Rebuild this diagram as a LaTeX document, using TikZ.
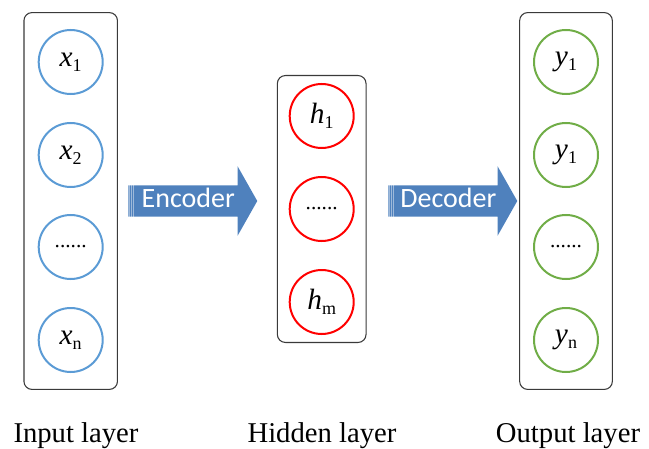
\documentclass[tikz,border=0pt]{standalone}
\usepackage{fontspec}
\setmainfont{Liberation Serif}
\newfontfamily\calibfont{Carlito}
\usetikzlibrary{shapes.arrows,fit}
\definecolor{aeBlue}{HTML}{5B9BD5}
\definecolor{aeRed}{HTML}{FF0000}
\definecolor{aeGreen}{HTML}{70AD47}
\definecolor{aeArrow}{HTML}{4F81BD}
\definecolor{aeFrame}{HTML}{3A3A3A}
\newcommand{\unitvar}[2]{\textit{#1}\raisebox{-0.4ex}{\fontsize{13.5}{13.5}\selectfont #2}}
\tikzset{
  ae unit/.style={circle, draw=#1, line width=1.5pt, minimum size=48pt, inner sep=0pt, font=\fontsize{22}{22}\selectfont},
  ae frame/.style={draw=aeFrame, line width=0.8pt, rounded corners=6pt},
  ae arrow/.style={single arrow, fill=aeArrow, draw=none, single arrow tip angle=121,
    single arrow head extend=14.25pt, minimum height=96.75pt, inner xsep=2pt, inner ysep=3.1pt,
    text height=13pt, text depth=4pt, font=\calibfont\fontsize{21}{21}\selectfont, text=white, anchor=tail},
  ae stripe/.style={draw=white, opacity=0.45, line width=0.5pt},
  ae caption/.style={anchor=base, font=\fontsize{21.5}{21.5}\selectfont},
}
\begin{document}
\begin{tikzpicture}[x=0.75pt,y=-0.75pt]
  \useasboundingbox (0,0) rectangle (649,449);
  % Input units
  \foreach \yy/\t [count=\i] in {62/{\unitvar{x}{1}},155/{\unitvar{x}{2}},247/{{\fontsize{16}{16}\selectfont......}},340/{\unitvar{x}{n}}}
    \node[ae unit=aeBlue] (x\i) at (70.7,\yy) {\t};
  % Hidden units
  \foreach \yy/\t [count=\i] in {116/{\unitvar{h}{1}},209/{{\fontsize{16}{16}\selectfont......}},302/{\unitvar{h}{m}}}
    \node[ae unit=aeRed] (h\i) at (321.7,\yy) {\t};
  % Output units
  \foreach \yy/\t [count=\i] in {62/{\unitvar{y}{1}},155/{\unitvar{y}{1}},247/{{\fontsize{16}{16}\selectfont......}},340/{\unitvar{y}{n}}}
    \node[ae unit=aeGreen] (y\i) at (566,\yy) {\t};
  % Layer frames
  \node[ae frame, fit=(x1)(x4), inner xsep=10.3pt, inner ysep=12.3pt] (inframe) {};
  \node[ae frame, fit=(h1)(h3), inner xsep=8.5pt, inner ysep=5.6pt] (hidframe) {};
  \node[ae frame, fit=(y1)(y4), inner xsep=10pt, inner ysep=12.3pt] (outframe) {};
  % Encoder / decoder arrows
  \node[ae arrow] (enc) at (128,201) {Encoder};
  \node[ae arrow] (dec) at (388,201) {Decoder};
  \foreach \a in {enc,dec}
    \foreach \s in {1.2pt,2.6pt,4pt}
      \draw[ae stripe] ([xshift=\s]\a.before tail) -- ([xshift=\s]\a.after tail);
  % Captions
  \node[ae caption] (incap) at (76,442) {Input layer};
  \node[ae caption] (hidcap) at (322,442) {Hidden layer};
  \node[ae caption] (outcap) at (568,442) {Output layer};
\end{tikzpicture}
\end{document}
